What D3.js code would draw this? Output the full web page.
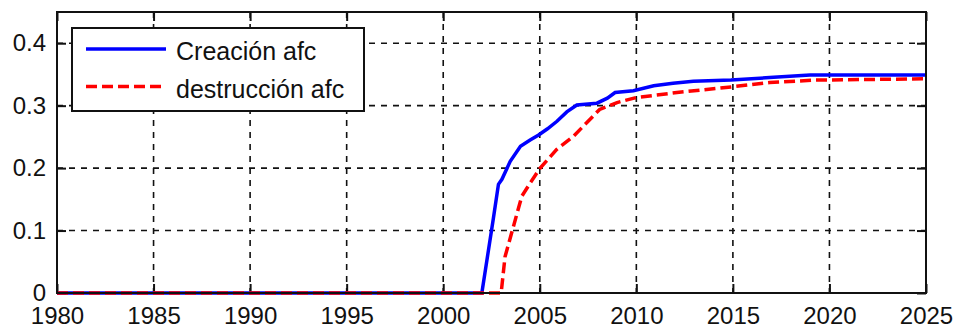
<!DOCTYPE html>
<html lang="es">
<head>
    <meta charset="UTF-8">
    <title>Creación y destrucción afc</title>
    <script src="https://d3js.org/d3.v7.min.js"></script>
    <style>
        body {
            margin: 0;
            background: #fff;
            font-family: "Liberation Sans", Arial, sans-serif;
        }
        svg { display: block; }
        .tick-label {
            font-size: 24px;
            fill: #111;
        }
        .legend-text {
            font-size: 25px;
            fill: #111;
        }
        .grid line {
            stroke: #111;
            stroke-width: 1.6;
            stroke-dasharray: 6,6;
        }
    </style>
</head>
<body>
    <svg width="956" height="332"></svg>

    <script>
        // datos
        const xTicks = [1980, 1985, 1990, 1995, 2000, 2005, 2010, 2015, 2020, 2025];
        const yTicks = [0, 0.1, 0.2, 0.3, 0.4];

        const creacionYears = [1980, 2002.0, 2002.3, 2002.6, 2002.86, 2003.04, 2003.47, 2004.0, 2004.5, 2004.94, 2005.4, 2005.89, 2006.4, 2006.92, 2007.96, 2008.5, 2008.9, 2009.85, 2010.9, 2011.9, 2012.95, 2014.9, 2016.9, 2019.0, 2025];
        const creacionValues = [0, 0, 0.06, 0.12, 0.174, 0.182, 0.211, 0.235, 0.245, 0.253, 0.263, 0.275, 0.29, 0.301, 0.304, 0.312, 0.321, 0.324, 0.332, 0.336, 0.339, 0.341, 0.345, 0.349, 0.349];

        const destruccionYears = [1980, 2003.0, 2003.2, 2003.64, 2004.07, 2004.5, 2005.02, 2005.88, 2006.75, 2007.44, 2008.1, 2009.0, 2010.0, 2012.1, 2014.9, 2016.9, 2019.3, 2025];
        const destruccionValues = [0, 0, 0.058, 0.107, 0.155, 0.176, 0.2, 0.23, 0.251, 0.273, 0.294, 0.305, 0.313, 0.321, 0.33, 0.337, 0.341, 0.343];

        const seriesNames = ["Creación afc", "destrucción afc"];

        const margin = {top: 12, right: 30, bottom: 39, left: 57};
        const width = 956, height = 332;
        const w = width - margin.left - margin.right;
        const h = height - margin.top - margin.bottom;

        const svg = d3.select("svg");
        const g = svg.append("g").attr("transform", `translate(${margin.left},${margin.top})`);

        const x = d3.scaleLinear().domain([1980, 2025]).range([0, w]);
        const y = d3.scaleLinear().domain([0, 0.45]).range([h, 0]);

        // rejilla discontinua
        const grid = g.append("g").attr("class", "grid");
        grid.selectAll("line.v").data(xTicks.slice(1, -1)).enter().append("line")
            .attr("class", "v")
            .attr("x1", d => x(d)).attr("x2", d => x(d))
            .attr("y1", 0).attr("y2", h);
        grid.selectAll("line.h").data(yTicks.slice(1)).enter().append("line")
            .attr("class", "h")
            .attr("x1", 0).attr("x2", w)
            .attr("y1", d => y(d)).attr("y2", d => y(d));

        // ejes con marcas hacia dentro en los cuatro lados
        const tickLen = 9;
        const axisStyle = sel => {
            sel.select(".domain").remove();
            sel.selectAll(".tick line").attr("stroke", "#111").attr("stroke-width", 2);
        };
        const xb = g.append("g").attr("transform", `translate(0,${h})`)
            .call(d3.axisBottom(x).tickValues(xTicks).tickSizeInner(-tickLen).tickSizeOuter(0).tickFormat(d3.format("d")).tickPadding(12));
        axisStyle(xb);
        xb.selectAll(".tick text").attr("class", "tick-label").attr("dy", "0.71em").attr("y", 14);

        const xt = g.append("g")
            .call(d3.axisTop(x).tickValues(xTicks).tickSizeInner(-tickLen).tickSizeOuter(0).tickFormat(""));
        axisStyle(xt);

        const yl = g.append("g")
            .call(d3.axisLeft(y).tickValues(yTicks).tickSizeInner(-tickLen).tickSizeOuter(0).tickFormat(d => d === 0 ? "0" : d3.format(".1f")(d)).tickPadding(20));
        axisStyle(yl);
        yl.selectAll(".tick text").attr("class", "tick-label").attr("x", -11);

        const yr = g.append("g").attr("transform", `translate(${w},0)`)
            .call(d3.axisRight(y).tickValues(yTicks).tickSizeInner(-tickLen).tickSizeOuter(0).tickFormat(""));
        axisStyle(yr);

        g.selectAll(".tick-label").attr("font-size", 24).attr("fill", "#111")
            .attr("font-family", "'Liberation Sans', Arial, sans-serif");

        // series
        const line = d3.line().x(d => x(d[0])).y(d => y(d[1]));
        const creacion = d3.zip(creacionYears, creacionValues);
        const destruccion = d3.zip(destruccionYears, destruccionValues);

        g.append("path").datum(creacion)
            .attr("d", line)
            .attr("fill", "none")
            .attr("stroke", "#0000ff")
            .attr("stroke-width", 3.5);

        g.append("path").datum(destruccion)
            .attr("d", line)
            .attr("fill", "none")
            .attr("stroke", "#ff0000")
            .attr("stroke-width", 3.5)
            .attr("stroke-dasharray", "11,5");

        // marco
        g.append("rect")
            .attr("width", w).attr("height", h)
            .attr("fill", "none")
            .attr("stroke", "#111")
            .attr("stroke-width", 2);

        // leyenda
        const legend = g.append("g").attr("transform", "translate(15,16)");
        legend.append("rect")
            .attr("width", 292).attr("height", 83)
            .attr("fill", "#fff")
            .attr("stroke", "#111")
            .attr("stroke-width", 2);
        const styles = [
            {color: "#0000ff", dash: null},
            {color: "#ff0000", dash: "11,5"}
        ];
        seriesNames.forEach((name, i) => {
            const cy = 21 + i * 37.5;
            legend.append("line")
                .attr("x1", 14).attr("x2", 94)
                .attr("y1", cy).attr("y2", cy)
                .attr("stroke", styles[i].color)
                .attr("stroke-width", 3.5)
                .attr("stroke-dasharray", styles[i].dash);
            legend.append("text")
                .attr("class", "legend-text")
                .attr("x", 104)
                .attr("y", cy + 11)
                .text(name);
        });
    </script>
</body>
</html>
